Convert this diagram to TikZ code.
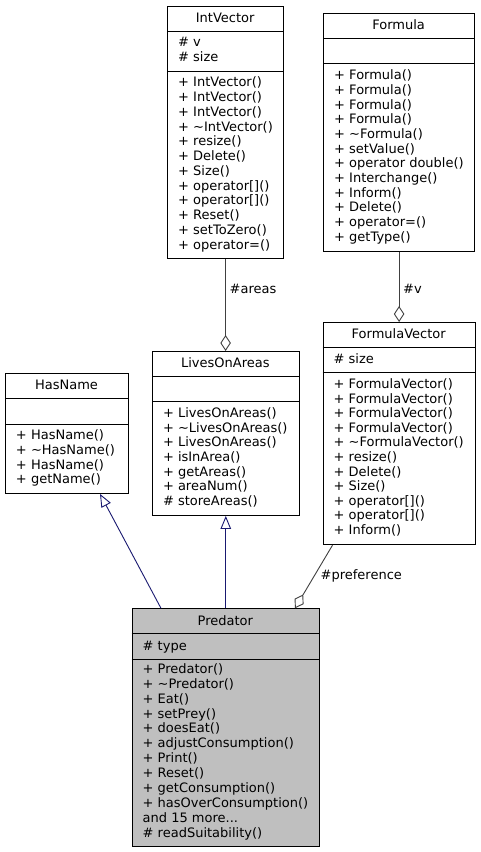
\documentclass[tikz,border=0pt]{standalone}
\usepackage{fontspec}
\setmainfont{DejaVu Sans}
\usetikzlibrary{arrows.meta}
\definecolor{navyedge}{HTML}{191970}
\definecolor{aggedge}{HTML}{404040}
\definecolor{mainfill}{HTML}{BFBFBF}
\tikzset{
  umlbox/.style={draw=black, line width=0.9pt, fill=white, rectangle, inner sep=0pt, anchor=north west},
  sepline/.style={draw=black, line width=0.9pt},
  txt/.style={anchor=base west, inner sep=0pt, text=black},
  ttl/.style={anchor=base, inner sep=0pt, text=black},
  inherit/.style={draw=navyedge, line width=0.9pt, -{Triangle[open, length=13pt, width=10.5pt, fill=white]}},
  aggr/.style={draw=aggedge, line width=0.9pt, -{Diamond[open, length=16pt, width=10.5pt, fill=white]}},
  lbl/.style={anchor=base west, inner sep=0pt, text=black}
}
\newcommand{\tdots}{...}
\newcommand{\mylines}[5]{\foreach \t [count=\i from 0] in {#5} \node[txt] (#1\i) at (#2, {#3+\i*#4}) {\t};}
\begin{document}
\begin{tikzpicture}[x=1pt, y=-1pt, font=\fontsize{13}{15}\selectfont]
\useasboundingbox (0,0) rectangle (480,852);
\fill[white] (0,0) rectangle (480,852);

% IntVector
\node[umlbox, minimum width=116.3pt, minimum height=252pt] (intvector) at (167,5.7) {};
\draw[sepline] (167,31.3) -- (283.3,31.3);
\draw[sepline] (167,71) -- (283.3,71);
\node[ttl] (intvectorT) at (225.15,22) {IntVector};
\mylines{intva}{178}{46.7}{14.9}{{\# v},{\# size}}
\mylines{intvm}{178}{86.7}{14.77}{{+ IntVector()},{+ IntVector()},{+ IntVector()},{+ \textasciitilde IntVector()},{+ resize()},{+ Delete()},{+ Size()},{+ operator[]()},{+ operator[]()},{+ Reset()},{+ setToZero()},{+ operator=()}}

% Formula
\node[umlbox, minimum width=150.7pt, minimum height=237.4pt] (formula) at (323.3,13.3) {};
\draw[sepline] (323.3,38.7) -- (474,38.7);
\draw[sepline] (323.3,63.7) -- (474,63.7);
\node[ttl] (formulaT) at (398.65,29) {Formula};
\mylines{formm}{334}{79.7}{14.67}{{+ Formula()},{+ Formula()},{+ Formula()},{+ Formula()},{+ \textasciitilde Formula()},{+ setValue()},{+ operator double()},{+ Interchange()},{+ Inform()},{+ Delete()},{+ operator=()},{+ getType()}}

% HasName
\node[umlbox, minimum width=123pt, minimum height=120pt] (hasname) at (5,373) {};
\draw[sepline] (5,398.7) -- (128,398.7);
\draw[sepline] (5,424) -- (128,424);
\node[ttl] (hasnameT) at (66.5,389) {HasName};
\mylines{hasm}{15.8}{439.4}{14.8}{{+ HasName()},{+ \textasciitilde HasName()},{+ HasName()},{+ getName()}}

% LivesOnAreas
\node[umlbox, minimum width=146.7pt, minimum height=164pt] (livesonareas) at (152,351) {};
\draw[sepline] (152,376.7) -- (298.7,376.7);
\draw[sepline] (152,401.7) -- (298.7,401.7);
\node[ttl] (livesonareasT) at (225.35,367) {LivesOnAreas};
\mylines{loam}{162.8}{417.7}{14.6}{{+ LivesOnAreas()},{+ \textasciitilde LivesOnAreas()},{+ LivesOnAreas()},{+ isInArea()},{+ getAreas()},{+ areaNum()},{\# storeAreas()}}

% FormulaVector
\node[umlbox, minimum width=152pt, minimum height=222.3pt] (formulavector) at (322.7,322) {};
\draw[sepline] (322.7,347) -- (474.7,347);
\draw[sepline] (322.7,372.3) -- (474.7,372.3);
\node[ttl] (formulavectorT) at (398.7,338) {FormulaVector};
\mylines{fva}{333.5}{363}{14.8}{{\# size}}
\mylines{fvm}{333.5}{388.7}{14.57}{{+ FormulaVector()},{+ FormulaVector()},{+ FormulaVector()},{+ FormulaVector()},{+ \textasciitilde FormulaVector()},{+ resize()},{+ Delete()},{+ Size()},{+ operator[]()},{+ operator[]()},{+ Inform()}}

% Predator
\node[umlbox, fill=mainfill, minimum width=187.3pt, minimum height=237.7pt] (predator) at (131.7,608.3) {};
\draw[sepline] (131.7,633.3) -- (319,633.3);
\draw[sepline] (131.7,659) -- (319,659);
\node[ttl] (predatorT) at (225.35,625) {Predator};
\mylines{preda}{142.5}{650.4}{14.8}{{\# type}}
\mylines{predm}{142.5}{673.4}{14.88}{{+ Predator()},{+ \textasciitilde Predator()},{+ Eat()},{+ setPrey()},{+ doesEat()},{+ adjustConsumption()},{+ Print()},{+ Reset()},{+ getConsumption()},{+ hasOverConsumption()},{and 15 more\tdots},{\# readSuitability()}}

% connectors
\draw[aggr] (intvector.south) -- (intvector.south |- livesonareas.north);
\draw[aggr] (formula.south) -- (formula.south |- formulavector.north);
\draw[inherit] ([xshift=29.3pt]predator.north west) -- ([xshift=95pt]hasname.south west);
\draw[inherit] (predator.north) -- (predator.north |- livesonareas.south);
\draw[aggr] ([xshift=9.8pt]formulavector.south west) -- ([xshift=163.3pt]predator.north west);

% labels
\node[lbl] (lblareas) at (229.5,293.4) {\#areas};
\node[lbl] (lblv) at (403,293.4) {\#v};
\node[lbl] (lblpref) at (320.5,579.7) {\#preference};
\end{tikzpicture}
\end{document}
